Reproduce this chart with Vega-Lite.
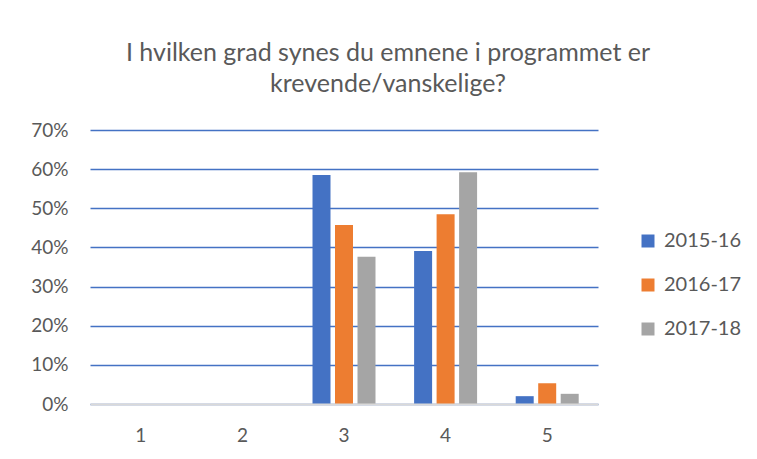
{
  "$schema": "https://vega.github.io/schema/vega-lite/v6.json",
  "autosize": {"type": "none"},
  "width": 508,
  "height": 274,
  "padding": {"left": 90, "top": 130, "right": 159, "bottom": 55},
  "background": "white",
  "title": {
    "text": ["I hvilken grad synes du emnene i programmet er", "krevende/vanskelige?"],
    "font": "Lato",
    "fontSize": 25,
    "fontWeight": "normal",
    "color": "#595959",
    "lineHeight": 31,
    "anchor": "middle",
    "dx": 44,
    "offset": 24
  },
  "data": {
    "values": [
      {"kategori": "1", "aar": "2015-16", "andel": 0},
      {"kategori": "1", "aar": "2016-17", "andel": 0},
      {"kategori": "1", "aar": "2017-18", "andel": 0},
      {"kategori": "2", "aar": "2015-16", "andel": 0},
      {"kategori": "2", "aar": "2016-17", "andel": 0},
      {"kategori": "2", "aar": "2017-18", "andel": 0},
      {"kategori": "3", "aar": "2015-16", "andel": 0.585},
      {"kategori": "3", "aar": "2016-17", "andel": 0.457},
      {"kategori": "3", "aar": "2017-18", "andel": 0.376},
      {"kategori": "4", "aar": "2015-16", "andel": 0.391},
      {"kategori": "4", "aar": "2016-17", "andel": 0.485},
      {"kategori": "4", "aar": "2017-18", "andel": 0.592},
      {"kategori": "5", "aar": "2015-16", "andel": 0.02},
      {"kategori": "5", "aar": "2016-17", "andel": 0.053},
      {"kategori": "5", "aar": "2017-18", "andel": 0.026}
    ]
  },
  "mark": {"type": "bar"},
  "encoding": {
    "x": {
      "field": "kategori",
      "type": "nominal",
      "scale": {"paddingInner": 0.38, "paddingOuter": 0.19},
      "axis": {
        "title": null,
        "labelAngle": 0,
        "labelFont": "Lato",
        "labelFontSize": 19,
        "labelColor": "#595959",
        "labelPadding": 22,
        "ticks": false,
        "domainColor": "#D9D9D9",
        "domainWidth": 2,
        "zindex": 1
      }
    },
    "xOffset": {
      "field": "aar",
      "type": "nominal",
      "scale": {"paddingInner": 0.2, "paddingOuter": 0}
    },
    "y": {
      "field": "andel",
      "type": "quantitative",
      "scale": {"domain": [0, 0.7], "nice": false},
      "axis": {
        "title": null,
        "format": ".0%",
        "values": [0, 0.1, 0.2, 0.3, 0.4, 0.5, 0.6, 0.7],
        "labelFont": "Lato",
        "labelFontSize": 19,
        "labelColor": "#595959",
        "labelPadding": 22,
        "ticks": false,
        "domain": false,
        "grid": true,
        "gridColor": "#4472C4",
        "gridWidth": 1.6
      }
    },
    "color": {
      "field": "aar",
      "type": "nominal",
      "scale": {"domain": ["2015-16", "2016-17", "2017-18"], "range": ["#4472C4", "#ED7D31", "#A5A5A5"]},
      "legend": {
        "title": null,
        "orient": "none",
        "legendX": 548,
        "legendY": 101,
        "symbolType": "square",
        "symbolSize": 169,
        "symbolStrokeWidth": 0,
        "labelFont": "Lato",
        "labelFontSize": 20,
        "labelColor": "#595959",
        "labelOffset": 6,
        "rowPadding": 24
      }
    }
  },
  "config": {
    "view": {"stroke": null}
  }
}
